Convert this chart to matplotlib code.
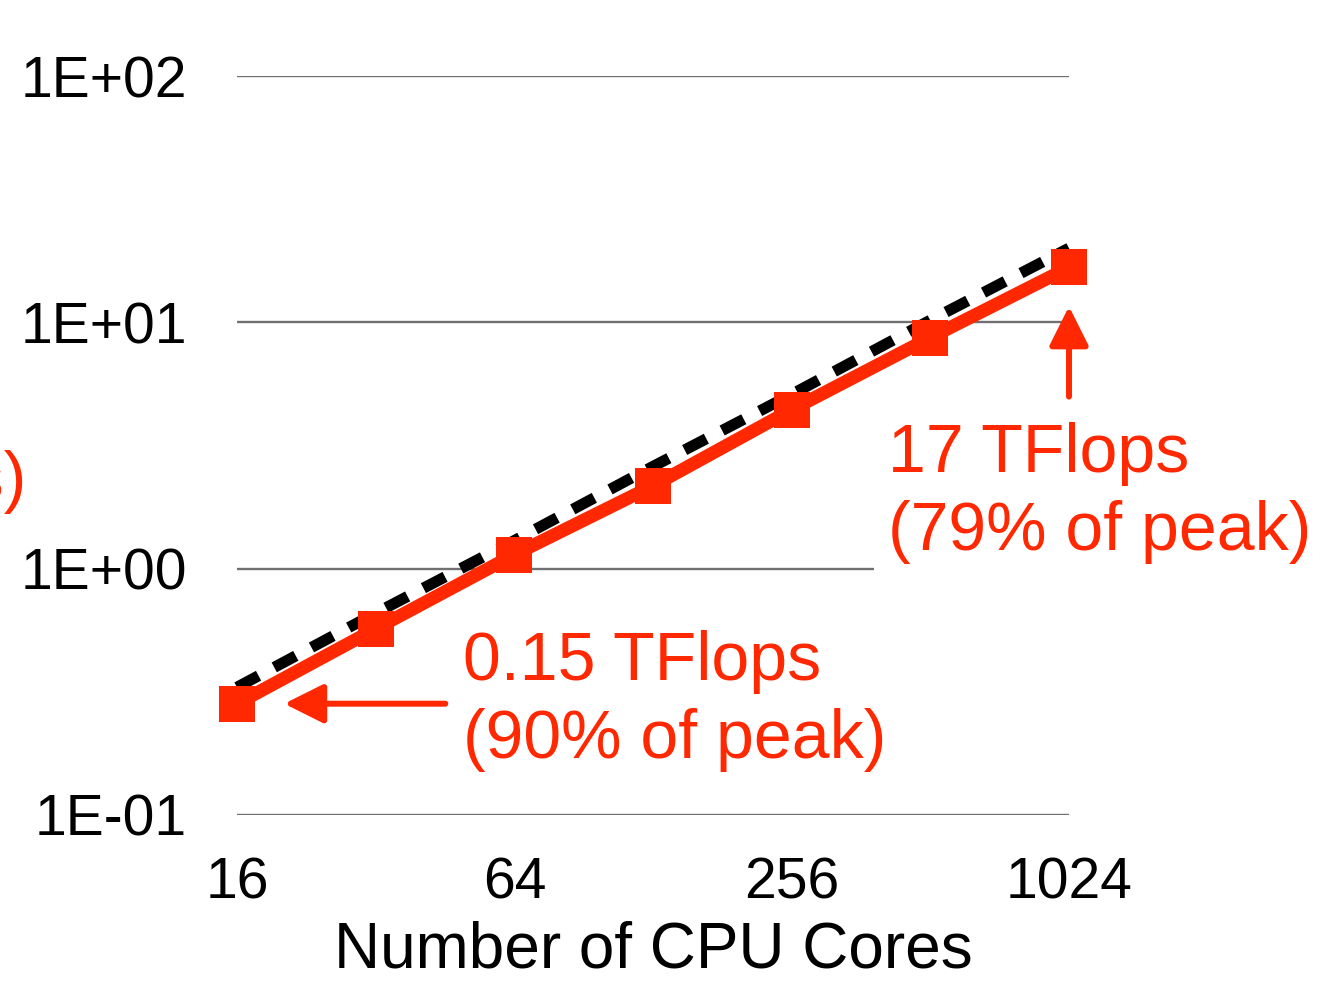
"""Strong scaling of sustained performance vs CPU cores (log-log, ideal dashed)."""
import matplotlib
matplotlib.use('Agg')
import matplotlib.pyplot as plt
from matplotlib.ticker import FixedLocator, FuncFormatter, NullLocator

plt.rcParams['font.family'] = ['Liberation Sans', 'DejaVu Sans']

RED = '#FF2800'

# --- data ---
cores = [16, 32, 64, 128, 256, 512, 1024]
measured = [0.283, 0.57, 1.14, 2.17, 4.42, 8.67, 16.7]
ideal = [0.33, 0.66, 1.3, 2.6, 5.1, 10.2, 20.0]

x_ticks = [16, 64, 256, 1024]
y_ticks = [0.1, 1, 10, 100]

W, H = 1336, 981
fig = plt.figure(figsize=(W / 100, H / 100), dpi=100)
ax = fig.add_axes([237 / W, 1 - 815 / H, (1069 - 237) / W, (815 - 76) / H])

ax.set_xscale('log', base=2)
ax.set_yscale('log')
ax.set_xlim(16, 1024)
ax.set_ylim(0.1, 100)

# ideal scaling (dashed) under measured
ax.plot(cores, ideal, color='black', linewidth=8, dashes=(2.2, 1.6),
        solid_capstyle='butt', dash_capstyle='butt', zorder=3, clip_on=False)
ax.plot(cores, measured, color=RED, linewidth=9.5, marker='s', markersize=26,
        markeredgewidth=0, zorder=4, clip_on=False)

# axes styling
for s in ax.spines.values():
    s.set_visible(False)
ax.xaxis.set_major_locator(FixedLocator(x_ticks))
ax.xaxis.set_minor_locator(NullLocator())
ax.xaxis.set_major_formatter(FuncFormatter(lambda v, p: f'{int(v)}'))
ax.yaxis.set_major_locator(FixedLocator(y_ticks))
ax.yaxis.set_minor_locator(NullLocator())
ax.yaxis.set_major_formatter(FuncFormatter(lambda v, p: format(v, '.0E')))
ax.tick_params(axis='y', length=0, labelsize=41, pad=36)
ax.tick_params(axis='x', length=0, labelsize=41, pad=30)
ax.set_axisbelow(True)
ax.yaxis.grid(True, color='#707070', linewidth=1.7)
ax.xaxis.grid(False)

ax.set_xlabel('Number of CPU Cores', fontsize=46, labelpad=7)

# y label runs off the left edge in the original: only its ")" shows
fig.text(27 / W, 1 - 482 / H, '(TFlops)', color=RED, fontsize=49,
         ha='right', va='center')

# annotations
arrow = dict(arrowstyle='-|>,head_length=1.2,head_width=0.6', color=RED,
             lw=4.3, mutation_scale=20, shrinkA=0)
ax.annotate('', xy=(cores[0], measured[0]), xytext=(150, 0),
            textcoords='offset points',
            arrowprops=dict(arrow, shrinkB=34), zorder=6)
ax.annotate('', xy=(cores[-1], measured[-1]), xytext=(0, -93),
            textcoords='offset points',
            arrowprops=dict(arrow, shrinkB=28), zorder=6)

fig.text(463 / W, 1 - 630 / H, '0.15 TFlops\n(90% of peak)', color=RED,
         fontsize=49, ha='left', va='top', linespacing=1.28)
fig.text(888 / W, 1 - 422 / H, '17 TFlops\n(79% of peak)', color=RED,
         fontsize=49, ha='left', va='top', linespacing=1.28, zorder=2.5,
         bbox=dict(boxstyle='square,pad=0.2', facecolor='white', edgecolor='none'))

fig.savefig('out.png', dpi=100)
